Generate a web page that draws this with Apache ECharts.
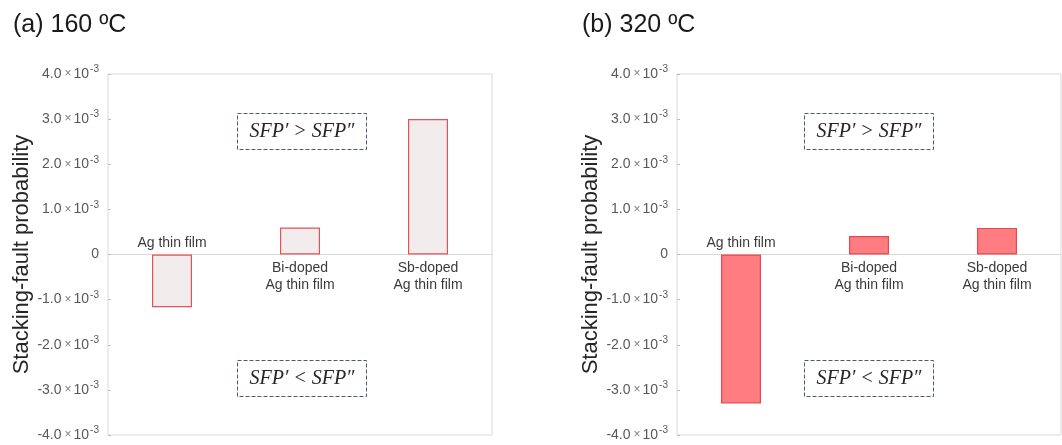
<!DOCTYPE html>
<html><head><meta charset="utf-8">
<script src="https://cdn.jsdelivr.net/npm/echarts@6/dist/echarts.min.js"></script>
<style>html,body{margin:0;padding:0;background:#fff}#c{width:1062px;height:445px}</style>
</head><body><div id="c"></div>
<script>
const categories = ['Ag thin film', 'Bi-doped\nAg thin film', 'Sb-doped\nAg thin film'];
const sfp160 = [-1.17e-3, 0.6e-3, 3.0e-3];
const sfp320 = [-3.3e-3, 0.41e-3, 0.59e-3];
const panelTitles = ['(a) 160 ºC', '(b) 320 ºC'];
const yMin = -4e-3, yMax = 4e-3, yStep = 1e-3;
const annotUpper = ['SFP′', '>', 'SFP″'];
const annotLower = ['SFP′', '<', 'SFP″'];

const chart = echarts.init(document.getElementById('c'), null, {renderer: 'canvas'});
const FONT = 'Liberation Sans, Arial, sans-serif';

function yLabel(v) {
  if (Math.abs(v) < 1e-9) return '0';
  return (v * 1000).toFixed(1) + '{x|×}10{s|-3}';
}
function makeY(gi) {
  return {
    type: 'value', gridIndex: gi, min: yMin, max: yMax, interval: yStep,
    name: 'Stacking-fault probability', nameLocation: 'middle', nameGap: 75,
    nameTextStyle: {fontSize: 22, color: '#262626', fontFamily: FONT},
    axisLine: {show: false},
    axisTick: {show: true, inside: true, length: 3, lineStyle: {color: '#bfbfbf'}},
    splitLine: {show: false},
    axisLabel: {
      formatter: yLabel, margin: 9, color: '#595959', fontSize: 14, fontFamily: FONT,
      rich: {
        x: {fontSize: 12, color: '#7f7f7f', padding: [0, 2, 0, 3], fontFamily: FONT},
        s: {fontSize: 10, color: '#595959', verticalAlign: 'top', padding: [0, 0, 9, 1], fontFamily: FONT}
      }
    }
  };
}
function makeX(gi) {
  return {
    type: 'category', gridIndex: gi, data: categories,
    axisLine: {onZero: true, lineStyle: {color: '#d9d9d9', width: 1}},
    axisTick: {show: false}, axisLabel: {show: false}, splitLine: {show: false}
  };
}
function makeData(vals) {
  return vals.map(v => ({value: v, label: {position: v < 0 ? 'top' : 'bottom', distance: v < 0 ? 3 : 5}}));
}
function makeSeries(gi, vals, fill, border) {
  return {
    type: 'bar', xAxisIndex: gi, yAxisIndex: gi, barWidth: 40,
    data: makeData(vals),
    itemStyle: {color: fill, borderColor: border, borderWidth: 1.2},
    label: {
      show: true, color: '#3a3a3a', fontSize: 14, lineHeight: 17, fontFamily: FONT,
      formatter: p => p.name
    },
    emphasis: {disabled: true}, animation: false
  };
}
function annot(x, y, parts) {
  return [
    {type: 'rect', x: x + 0.5, y: y + 0.5, shape: {x: 0, y: 0, width: 129, height: 36},
     style: {fill: 'none', stroke: '#4e5a78', lineWidth: 1, lineDash: [4, 2]}},
    {type: 'text', x: x + 65, y: y + 19,
     style: {
       text: '{i|' + parts[0] + '}{n| ' + parts[1] + ' }{i|' + parts[2] + '}',
       align: 'center', verticalAlign: 'middle',
       rich: {
         i: {fontStyle: 'italic', fontSize: 20, fontFamily: '"Liberation Serif", "DejaVu Serif", serif', fill: '#262626', padding: [0, 1, 0, 1]},
         n: {fontSize: 20, fontFamily: '"Liberation Serif", "DejaVu Serif", serif', fill: '#262626'}
       }
     }}
  ];
}

const option = {
  backgroundColor: '#fff',
  animation: false,
  title: [
    {text: panelTitles[0], left: 8, top: 8, textStyle: {fontSize: 25, fontWeight: 'normal', color: '#1a1a1a', fontFamily: FONT}},
    {text: panelTitles[1], left: 577, top: 8, textStyle: {fontSize: 25, fontWeight: 'normal', color: '#1a1a1a', fontFamily: FONT}}
  ],
  grid: [
    {left: 108, top: 74, width: 384, height: 361, show: true, borderColor: '#d9d9d9', borderWidth: 1},
    {left: 677, top: 74, width: 384, height: 361, show: true, borderColor: '#d9d9d9', borderWidth: 1}
  ],
  xAxis: [makeX(0), makeX(1)],
  yAxis: [makeY(0), makeY(1)],
  series: [
    makeSeries(0, sfp160, '#f3ecec', '#e5525a'),
    makeSeries(1, sfp320, '#ff7c80', '#e5484e')
  ],
  graphic: [].concat(
    annot(237, 113, annotUpper), annot(237, 360, annotLower),
    annot(804, 113, annotUpper), annot(804, 360, annotLower)
  )
};
chart.setOption(option);
</script></body></html>
